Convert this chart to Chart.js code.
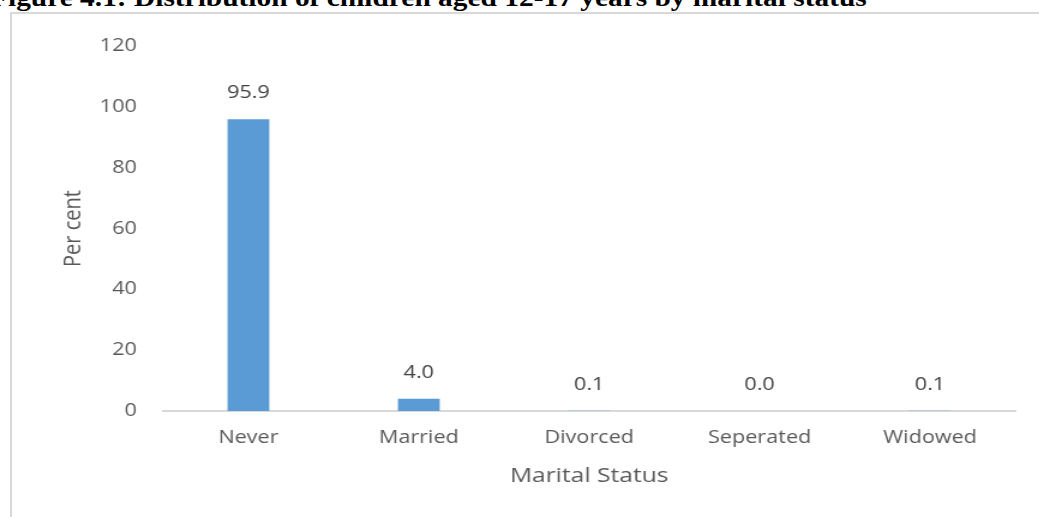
<!DOCTYPE html>
<html>
<head>
<meta charset="utf-8">
<script src="https://cdn.jsdelivr.net/npm/chart.js@4.4.1/dist/chart.umd.min.js"></script>
<style>
    html, body { margin: 0; padding: 0; background: #fff; overflow: hidden; }
    body { width: 1039px; height: 517px; position: relative; }
    #title {
        position: absolute; left: -10px; top: -16px; white-space: nowrap;
        font: bold 24.5px "Liberation Serif", "Times New Roman", serif; color: #000;
        transform: scaleX(1.2); transform-origin: 0 0;
    }
    #frame {
        position: absolute; left: 10px; top: 12px; width: 1100px; height: 600px;
        border: 2px solid #d9d9d9;
    }
    #wrap {
        position: absolute; left: 0; top: 0; width: 866px; height: 517px;
        transform: scaleX(1.2); transform-origin: 0 0;
    }
</style>
</head>
<body>
<div id="title">Figure 4.1: Distribution of children aged 12-17 years by marital status</div>
<div id="frame"></div>
<div id="wrap"><canvas id="chart" width="866" height="517"></canvas></div>
<script>
// data
const categories = ['Never', 'Married', 'Divorced', 'Seperated', 'Widowed'];
const perCent = [95.9, 4.0, 0.1, 0.0, 0.1];
const yTicks = [0, 20, 40, 60, 80, 100, 120];

const textColor = '#595959';
Chart.defaults.font.family = '"Open Sans", sans-serif';

// value labels above bars (no datalabels plugin offline)
const barLabels = {
    id: 'barLabels',
    afterDatasetsDraw(chart) {
        const ctx = chart.ctx;
        const meta = chart.getDatasetMeta(0);
        ctx.save();
        ctx.font = '18px "Open Sans", sans-serif';
        ctx.fillStyle = '#404040';
        ctx.textAlign = 'center';
        ctx.textBaseline = 'middle';
        meta.data.forEach((bar, i) => {
            ctx.fillText(perCent[i].toFixed(1), bar.x, bar.y - 26);
        });
        ctx.restore();
    }
};

new Chart(document.getElementById('chart'), {
    type: 'bar',
    data: {
        labels: categories,
        datasets: [{
            data: perCent,
            backgroundColor: '#5b9bd5',
            categoryPercentage: 1,
            barPercentage: 0.245
        }]
    },
    options: {
        responsive: false,
        animation: false,
        devicePixelRatio: 1,
        layout: { padding: { left: 40, right: 20, top: 46, bottom: 26 } },
        plugins: {
            legend: { display: false },
            tooltip: { enabled: false }
        },
        scales: {
            x: {
                grid: { display: false, drawTicks: false },
                border: { color: '#d9d9d9', width: 2 },
                ticks: { color: textColor, font: { size: 18 }, padding: 16 },
                title: {
                    display: true, text: 'Marital Status', color: textColor,
                    font: { size: 20.5 }, padding: { top: 0, bottom: 3 }
                },
                afterFit(scale) { scale.height = 80; }
            },
            y: {
                min: 0, max: 120,
                afterBuildTicks(scale) { scale.ticks = yTicks.map(v => ({ value: v })); },
                grid: { display: false, drawTicks: false },
                border: { display: false },
                ticks: { color: textColor, font: { size: 18 }, padding: 22 },
                title: {
                    display: true, text: 'Per cent', color: textColor,
                    font: { size: 20 }, padding: { top: 9, bottom: 0 }
                },
                afterFit(scale) { scale.width = 96; }
            }
        }
    },
    plugins: [barLabels]
});
</script>
</body>
</html>
